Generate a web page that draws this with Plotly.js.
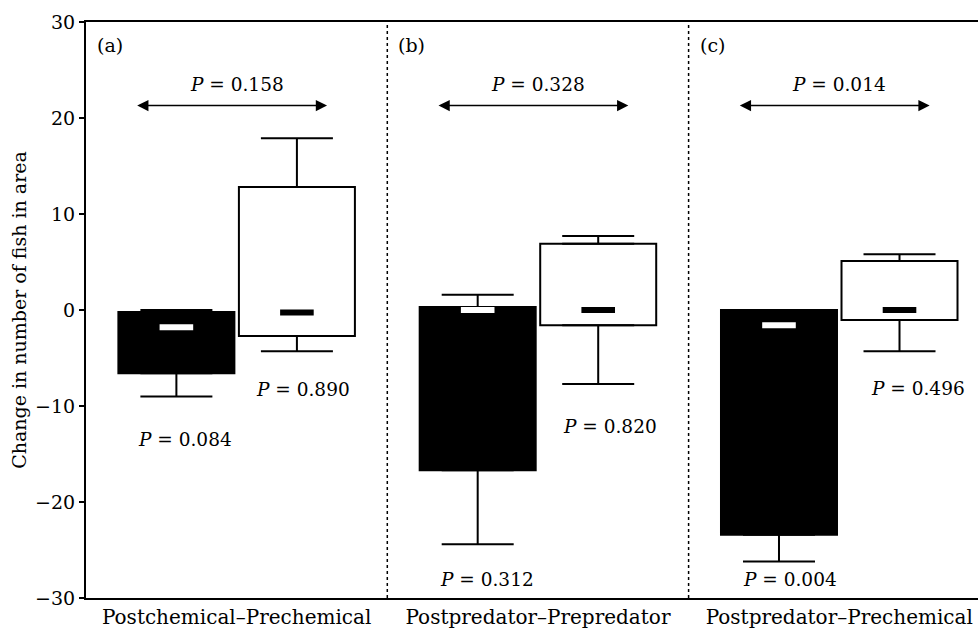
<!DOCTYPE html>
<html>
<head>
<meta charset="utf-8">
<script src="https://cdn.plot.ly/plotly-3.0.1.min.js"></script>
<style>html,body{margin:0;padding:0;background:#fff;}#chart{width:978px;height:628px;}</style>
</head>
<body>
<div id="chart"></div>
<script>
// ---- data ----
const categories = ['Postchemical–Prechemical', 'Postpredator–Prepredator', 'Postpredator–Prechemical'];
const panelLabels = ['(a)', '(b)', '(c)'];

// black boxes
const blackUpper  = [0.0, 1.6, 0.0];
const blackQ3     = [-0.2, 0.3, 0.0];
const blackMedian = [-1.8, 0.0, -1.6];
const blackQ1     = [-6.6, -16.7, -23.4];
const blackLower  = [-9.0, -24.4, -26.2];

// white boxes
const whiteUpper  = [17.9, 7.7, 5.8];
const whiteQ3     = [12.8, 6.9, 5.1];
const whiteMedian = [-0.25, 0.0, 0.0];
const whiteQ1     = [-2.7, -1.6, -1.05];
const whiteLower  = [-4.3, -7.7, -4.3];

// P values
const betweenP = ['0.158', '0.328', '0.014'];
const blackP   = ['0.084', '0.312', '0.004'];
const whiteP   = ['0.890', '0.820', '0.496'];

// ---- layout constants ----
const FONT = 'DejaVu Serif';
const FS = 19;
const PFS = 18.5;
const OFF = 0.2;
const BOXW = 0.385;
const idx = categories.map((_, i) => i);
const xBlack = idx.map(i => i - OFF);
const xWhite = idx.map(i => i + OFF);

const blackLabelPos = [{dx: -0.17, y: -13.5}, {dx: -0.17, y: -28.1}, {dx: -0.165, y: -28.1}];
const whiteLabelPos = [{dx: 0.22, y: -8.3}, {dx: 0.24, y: -12.15}, {dx: 0.26, y: -8.2}];
const ARROW_Y = 21.3, TOPP_Y = 23.5;

function sub(a, b) { return a.map((v, i) => v - b[i]); }
function zeros(n) { return new Array(n).fill(0); }

function boxTraces(xs, upper, q3, med, q1, lower, fill, medColor) {
  return [
    {
      type: 'bar', x: xs, y: sub(q3, q1), base: q1, width: BOXW,
      marker: {color: fill, line: {color: '#000', width: 2}},
      hoverinfo: 'skip'
    },
    {
      type: 'scatter', mode: 'markers', x: xs, y: q3,
      marker: {size: 1, opacity: 0},
      error_y: {type: 'data', symmetric: false, array: sub(upper, q3), arrayminus: zeros(xs.length),
                width: 36, thickness: 2, color: '#000'},
      hoverinfo: 'skip'
    },
    {
      type: 'scatter', mode: 'markers', x: xs, y: q1,
      marker: {size: 1, opacity: 0},
      error_y: {type: 'data', symmetric: false, array: zeros(xs.length), arrayminus: sub(q1, lower),
                width: 36, thickness: 2, color: '#000'},
      hoverinfo: 'skip'
    },
    {
      type: 'scatter', mode: 'markers', x: xs, y: med,
      marker: {symbol: 'line-ew', size: 24, line: {width: 6, color: medColor}},
      hoverinfo: 'skip'
    }
  ];
}

const data = [].concat(
  boxTraces(xBlack, blackUpper, blackQ3, blackMedian, blackQ1, blackLower, '#000', '#fff'),
  boxTraces(xWhite, whiteUpper, whiteQ3, whiteMedian, whiteQ1, whiteLower, '#fff', '#000')
);

const annotations = [];
const shapes = [];
idx.forEach(i => {
  // double-headed arrow
  annotations.push({
    xref: 'x', yref: 'y', axref: 'x', ayref: 'y',
    x: i + 0.30, y: ARROW_Y, ax: i - 0.335, ay: ARROW_Y,
    text: '', showarrow: true, arrowside: 'end+start',
    arrowhead: 2, startarrowhead: 2, arrowsize: 1.5, startarrowsize: 1.5,
    arrowwidth: 1.5, arrowcolor: '#000', standoff: 0, startstandoff: 0
  });
  annotations.push({
    xref: 'x', yref: 'y', x: i, y: TOPP_Y, text: '<i>P</i> = ' + betweenP[i],
    showarrow: false, font: {family: FONT, size: PFS, color: '#000'}
  });
  annotations.push({
    xref: 'x', yref: 'y', x: i + blackLabelPos[i].dx, y: blackLabelPos[i].y,
    text: '<i>P</i> = ' + blackP[i], showarrow: false,
    font: {family: FONT, size: PFS, color: '#000'}
  });
  annotations.push({
    xref: 'x', yref: 'y', x: i + whiteLabelPos[i].dx, y: whiteLabelPos[i].y,
    text: '<i>P</i> = ' + whiteP[i], showarrow: false,
    font: {family: FONT, size: PFS, color: '#000'}
  });
  annotations.push({
    xref: 'x', yref: 'y', x: i - 0.5, y: 27.6, xshift: 9, xanchor: 'left',
    text: panelLabels[i], showarrow: false,
    font: {family: FONT, size: FS, color: '#000'}
  });
  if (i > 0) {
    shapes.push({
      type: 'line', xref: 'x', yref: 'paper', x0: i - 0.5, x1: i - 0.5, y0: 0, y1: 1,
      line: {color: '#000', width: 1.5, dash: 'dot'}
    });
  }
});

const layout = {
  width: 978, height: 628,
  margin: {l: 86, r: 0, t: 22, b: 30},
  paper_bgcolor: '#fff', plot_bgcolor: '#fff',
  showlegend: false, barmode: 'overlay',
  font: {family: FONT, size: FS, color: '#000'},
  xaxis: {
    range: [-0.5, 2.4605], tickmode: 'array', tickvals: idx, ticktext: categories,
    showline: true, mirror: true, linecolor: '#000', linewidth: 2,
    ticks: '', showgrid: false, zeroline: false,
    tickfont: {family: FONT, size: 20, color: '#000'}
  },
  yaxis: {
    range: [-30, 30], tickmode: 'linear', tick0: -30, dtick: 10,
    ticks: 'outside', ticklen: 5, tickwidth: 2, tickcolor: '#000',
    showline: true, linecolor: '#000', linewidth: 2,
    showgrid: false, zeroline: false,
    tickfont: {family: FONT, size: FS, color: '#000'},
    title: {text: 'Change in number of fish in area', font: {family: FONT, size: FS, color: '#000'}, standoff: 3}
  },
  annotations: annotations,
  shapes: shapes
};

Plotly.newPlot('chart', data, layout, {displayModeBar: false, staticPlot: true});
</script>
</body>
</html>
